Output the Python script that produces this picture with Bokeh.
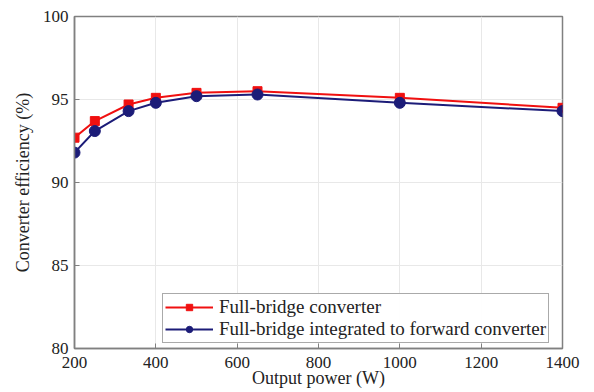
from bokeh.plotting import figure
from bokeh.models import Range1d, FixedTicker, Legend, LegendItem
from bokeh.embed import file_html
from bokeh.resources import INLINE

# Output power (W)
power = [200, 250, 333, 400, 500, 650, 1000, 1400]
# Efficiency (%) of the two converter topologies
eff_full_bridge = [92.7, 93.7, 94.7, 95.1, 95.4, 95.5, 95.1, 94.5]
eff_integrated = [91.8, 93.1, 94.3, 94.8, 95.2, 95.3, 94.8, 94.3]

x_ticks = [200, 400, 600, 800, 1000, 1200, 1400]
y_ticks = [80, 85, 90, 95, 100]

FONT = "Liberation Serif"

p = figure(width=594, height=392, output_backend="svg", toolbar_location=None,
           x_range=Range1d(200, 1400), y_range=Range1d(80, 100),
           min_border_left=74, min_border_right=32, min_border_top=16,
           min_border_bottom=44)

p.background_fill_color = "white"
p.border_fill_color = "white"
p.outline_line_color = "#808080"
p.outline_line_width = 1.5

for ax in (p.xaxis[0], p.yaxis[0]):
    ax.major_label_text_font = FONT
    ax.major_label_text_font_size = "17px"
    ax.major_label_text_color = "#222222"
    ax.axis_label_text_font = FONT
    ax.axis_label_text_font_style = "normal"
    ax.axis_label_text_color = "#222222"
    ax.axis_line_color = "#808080"
    ax.axis_line_width = 1.5
    ax.major_tick_in = 5
    ax.major_tick_out = 0
    ax.major_tick_line_color = "#808080"
    ax.minor_tick_line_color = None

p.xaxis.ticker = FixedTicker(ticks=x_ticks)
p.yaxis.ticker = FixedTicker(ticks=y_ticks)
p.xaxis.axis_label = "Output power (W)"
p.yaxis.axis_label = "Converter efficiency (%)"
p.xaxis.axis_label_text_font_size = "18px"
p.yaxis.axis_label_text_font_size = "18px"
p.xaxis.axis_label_standoff = -3
p.yaxis.axis_label_standoff = 7
p.xaxis.major_label_standoff = 8
p.yaxis.major_label_standoff = 6

p.grid.grid_line_color = "#e8e8e8"
p.grid.grid_line_width = 1

RED = "#f01010"
NAVY = "#1c1c78"

r1l = p.line(power, eff_full_bridge, line_color=RED, line_width=2)
r1m = p.scatter(power, eff_full_bridge, marker="square", size=9,
                fill_color=RED, line_color=RED)
r2l = p.line(power, eff_integrated, line_color=NAVY, line_width=2)
r2m = p.scatter(power, eff_integrated, marker="circle", size=11,
                fill_color=NAVY, line_color=NAVY)

legend = Legend(items=[
    LegendItem(label="Full-bridge converter", renderers=[r1l, r1m]),
    LegendItem(label="Full-bridge integrated to forward converter", renderers=[r2l, r2m]),
], location=(88, 5))
legend.label_text_font = FONT
legend.label_text_font_size = "19px"
legend.label_text_color = "#222222"
legend.border_line_color = "#555555"
legend.border_line_width = 1
legend.margin = 0
legend.padding = 2
legend.spacing = 0
legend.glyph_width = 48
legend.glyph_height = 16
legend.label_height = 16
legend.label_standoff = 6
p.add_layout(legend)

open("out.html", "w").write(file_html(p, INLINE))
